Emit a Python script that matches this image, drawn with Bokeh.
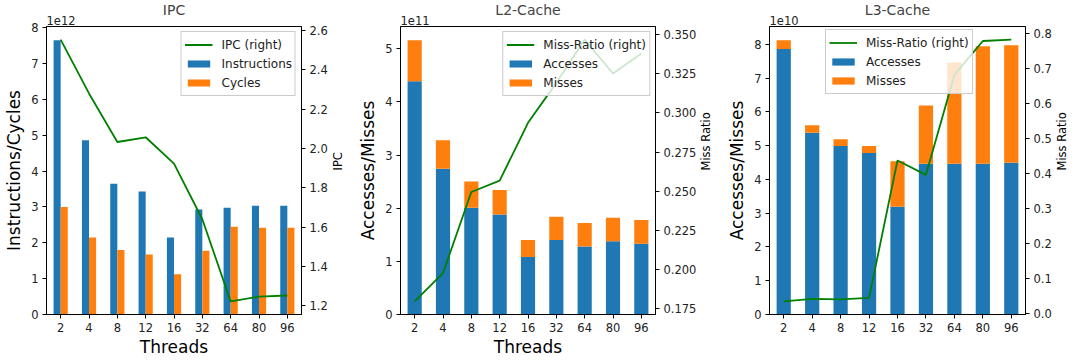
import math
from bokeh.plotting import figure
from bokeh.layouts import row
from bokeh.models import (Range1d, LinearAxis, FixedTicker, PrintfTickFormatter,
                          Legend, LegendItem, Title, ColumnDataSource)
from bokeh.transform import dodge
from bokeh.embed import file_html
from bokeh.resources import INLINE

threads = ["2", "4", "8", "12", "16", "32", "64", "80", "96"]

# IPC panel (left axis in units of 1e12)
instructions = [7.65, 4.86, 3.65, 3.43, 2.15, 2.93, 2.98, 3.03, 3.03]
cycles = [3.00, 2.15, 1.80, 1.67, 1.12, 1.78, 2.45, 2.42, 2.42]
ipc = [2.554, 2.28, 2.033, 2.057, 1.923, 1.64, 1.222, 1.246, 1.252]

# L2 panel (left axis in units of 1e11)
l2_accesses = [4.39, 2.74, 2.01, 1.88, 1.08, 1.40, 1.28, 1.38, 1.33]
l2_misses = [0.77, 0.54, 0.49, 0.46, 0.32, 0.44, 0.44, 0.44, 0.45]
l2_ratio = [0.1798, 0.1979, 0.2496, 0.2568, 0.2937, 0.3192, 0.3468, 0.3252, 0.3379]

# L3 panel (left axis in units of 1e10)
l3_accesses = [7.86, 5.38, 4.99, 4.78, 3.19, 4.46, 4.46, 4.46, 4.49]
l3_misses = [0.26, 0.22, 0.20, 0.21, 1.35, 1.73, 3.00, 3.48, 3.48]
l3_ratio = [0.034, 0.041, 0.040, 0.044, 0.437, 0.396, 0.682, 0.779, 0.783]

BLUE = "#1f77b4"
ORANGE = "#ff7f0e"
GREEN = "#008000"
FONT = "DejaVu Sans"
TICK_FS = "11.5px"


def pad_range(lo, hi, zero=False):
    span = hi - lo
    if zero:
        return 0.0, hi + 0.05 * hi
    return lo - 0.05 * span, hi + 0.05 * span


def style_axis(ax, fs=TICK_FS):
    ax.major_label_text_font = FONT
    ax.major_label_text_font_size = fs
    ax.major_label_text_color = "#222222"
    ax.axis_label_text_font = FONT
    ax.axis_label_text_font_style = "normal"
    ax.axis_label_text_color = "black"
    ax.major_tick_out = 4
    ax.major_tick_in = 0
    ax.minor_tick_out = 0
    ax.minor_tick_in = 0
    ax.axis_line_color = "black"
    ax.major_tick_line_color = "black"
    ax.major_label_standoff = 4


def make_fig(title, width, left, right, ymax, rlo, rhi, rticks, rfmt, ylabel,
             rlabel, xlabel, exp_text, lticks, rstand):
    p = figure(x_range=threads, y_range=Range1d(0, ymax), width=width, height=361,
               output_backend="svg", toolbar_location=None,
               min_border_left=left, min_border_right=right,
               min_border_top=26, min_border_bottom=47)
    p.title.text = title
    p.title.align = "center"
    p.title.text_font = FONT
    p.title.text_font_size = "14px"
    p.title.text_font_style = "normal"
    p.title.standoff = -10
    p.add_layout(Title(text=exp_text, align="left", text_font=FONT,
                       text_font_size=TICK_FS, text_font_style="normal",
                       text_color="#222222", standoff=3), "above")
    p.xgrid.visible = False
    p.ygrid.visible = False
    p.outline_line_color = "black"
    p.outline_line_alpha = 1
    p.background_fill_color = "white"
    p.border_fill_color = "white"
    p.extra_y_ranges = {"right": Range1d(rlo, rhi)}
    rax = LinearAxis(y_range_name="right")
    p.add_layout(rax, "right")
    for ax in (p.xaxis[0], p.yaxis[0], rax):
        style_axis(ax)
    p.yaxis[0].ticker = FixedTicker(ticks=lticks)
    p.yaxis[0].formatter = PrintfTickFormatter(format="%d")
    p.yaxis[0].axis_label = ylabel
    p.yaxis[0].axis_label_text_font_size = "17px"
    p.yaxis[0].axis_label_standoff = 4
    rax.ticker = FixedTicker(ticks=rticks)
    rax.formatter = PrintfTickFormatter(format=rfmt)
    rax.axis_label = rlabel
    rax.axis_label_text_font_size = "11.5px"
    rax.axis_label_standoff = rstand
    if "axis_label_orientation" in rax.properties():
        rax.axis_label_orientation = math.pi / 2
    if xlabel:
        p.xaxis[0].axis_label = xlabel
        p.xaxis[0].axis_label_text_font_size = "17px"
        p.xaxis[0].axis_label_standoff = 2
    return p


def make_legend(items, location):
    lg = Legend(items=items, location=location)
    lg.label_text_font = FONT
    lg.label_text_font_size = "12px"
    lg.label_text_color = "#222222"
    lg.glyph_width = 28
    lg.glyph_height = 9
    lg.label_standoff = 9
    lg.label_height = 19
    lg.spacing = 0
    lg.padding = 3
    lg.margin = 5
    lg.background_fill_color = "white"
    lg.background_fill_alpha = 0.8
    lg.border_line_color = "#cccccc"
    lg.border_line_alpha = 1
    return lg


# ---------- IPC ----------
src1 = ColumnDataSource(dict(threads=threads, instructions=instructions, cycles=cycles, ipc=ipc))
y1 = pad_range(0, max(instructions), zero=True)
r1 = pad_range(min(ipc), max(ipc))
p1 = make_fig("IPC", 354, 46, 47, y1[1], r1[0], r1[1],
              [1.2, 1.4, 1.6, 1.8, 2.0, 2.2, 2.4, 2.6], "%.1f",
              "Instructions/Cycles", "IPC", "Threads", "1e12", list(range(0, 9)), 7)
b_ins = p1.vbar(x=dodge("threads", -0.125, range=p1.x_range), top="instructions",
                width=0.25, source=src1, fill_color=BLUE, line_color=None)
b_cyc = p1.vbar(x=dodge("threads", 0.125, range=p1.x_range), top="cycles",
                width=0.25, source=src1, fill_color=ORANGE, line_color=None)
l_ipc = p1.line(x="threads", y="ipc", source=src1, y_range_name="right",
                line_color=GREEN, line_width=1.8, level="overlay")
p1.add_layout(make_legend([LegendItem(label="IPC (right)", renderers=[l_ipc]),
                           LegendItem(label="Instructions", renderers=[b_ins]),
                           LegendItem(label="Cycles", renderers=[b_cyc])], "top_right"))

# ---------- L2 ----------
src2 = ColumnDataSource(dict(threads=threads, acc=l2_accesses, miss=l2_misses, ratio=l2_ratio))
tot2 = [a + m for a, m in zip(l2_accesses, l2_misses)]
y2 = pad_range(0, max(tot2), zero=True)
r2 = pad_range(min(l2_ratio), max(l2_ratio))
p2 = make_fig("L2-Cache", 369, 46, 62, y2[1], r2[0], r2[1],
              [0.175, 0.2, 0.225, 0.25, 0.275, 0.3, 0.325, 0.35], "%.3f",
              "Accesses/Misses", "Miss Ratio", "Threads", "1e11", list(range(0, 6)), 7)
st2 = p2.vbar_stack(["acc", "miss"], x="threads", width=0.5, source=src2,
                    fill_color=[BLUE, ORANGE], line_color=None)
l_r2 = p2.line(x="threads", y="ratio", source=src2, y_range_name="right",
               line_color=GREEN, line_width=1.8, level="overlay")
p2.add_layout(make_legend([LegendItem(label="Miss-Ratio (right)", renderers=[l_r2]),
                           LegendItem(label="Accesses", renderers=[st2[0]]),
                           LegendItem(label="Misses", renderers=[st2[1]])], "top_right"))

# ---------- L3 ----------
src3 = ColumnDataSource(dict(threads=threads, acc=l3_accesses, miss=l3_misses, ratio=l3_ratio))
tot3 = [a + m for a, m in zip(l3_accesses, l3_misses)]
y3 = pad_range(0, max(tot3), zero=True)
r3 = pad_range(min(l3_ratio), max(l3_ratio))
p3 = make_fig("L3-Cache", 355, 46, 47, y3[1], r3[0], r3[1],
              [0.0, 0.1, 0.2, 0.3, 0.4, 0.5, 0.6, 0.7, 0.8], "%.1f",
              "Accesses/Misses", "Miss Ratio", None, "1e10", list(range(0, 9)), 7)
st3 = p3.vbar_stack(["acc", "miss"], x="threads", width=0.5, source=src3,
                    fill_color=[BLUE, ORANGE], line_color=None)
l_r3 = p3.line(x="threads", y="ratio", source=src3, y_range_name="right",
               line_color=GREEN, line_width=1.8, level="overlay")
p3.add_layout(make_legend([LegendItem(label="Miss-Ratio (right)", renderers=[l_r3]),
                           LegendItem(label="Accesses", renderers=[st3[0]]),
                           LegendItem(label="Misses", renderers=[st3[1]])], (56, 220)))

layout = row(p1, p2, p3)
open("out.html", "w").write(file_html(layout, INLINE))
